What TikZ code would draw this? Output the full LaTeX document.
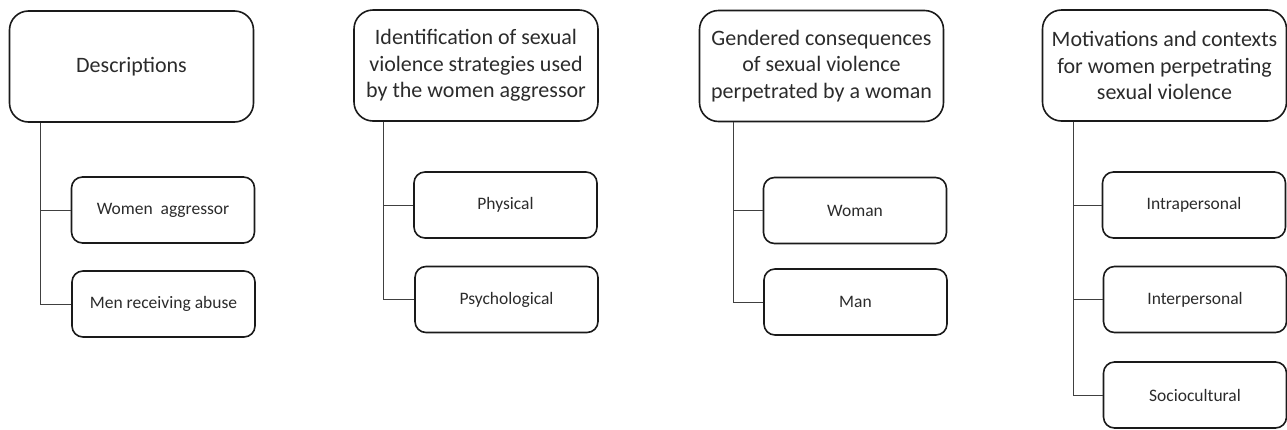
\documentclass[tikz,border=0pt]{standalone}
\usepackage{fontspec}
\setmainfont{Carlito}
\definecolor{boxline}{HTML}{1A1A1A}
\definecolor{conn}{HTML}{404040}
\definecolor{txt}{HTML}{2B2B2B}
\tikzset{
  headbox/.style={draw=boxline, line width=1.6pt, rounded corners=19pt,
    minimum width=244pt, minimum height=111pt, align=center, text=txt,
    inner sep=0pt, font=\fontsize{22}{26.5}\selectfont},
  subbox/.style={draw=boxline, line width=1.6pt, rounded corners=11pt,
    minimum width=183pt, minimum height=66pt, align=center, text=txt,
    inner sep=0pt, font=\fontsize{17.5}{21}\selectfont},
  link/.style={draw=conn, line width=1pt}
}
\begin{document}
\begin{tikzpicture}[x=1pt,y=-1pt]
\useasboundingbox (0,0) rectangle (1287,429);
% headers
\node[headbox] (T1) at (131.5,66.5) {Descriptions};
\node[headbox] (T2) at (476,65.5) {Identification of sexual\\violence strategies used\\by the women aggressor};
\node[headbox] (T3) at (821.5,66) {Gendered consequences\\of sexual violence\\perpetrated by a woman};
\node[headbox] (T4) at (1164.5,65.5) {Motivations and contexts\\for women perpetrating\\sexual violence};
% children
\node[subbox] (C1a) at (163,210) {Women\ \ aggressor};
\node[subbox] (C1b) at (163.5,304) {Men receiving abuse};
\node[subbox] (C2a) at (505.5,205) {Physical};
\node[subbox] (C2b) at (506.5,299.5) {Psychological};
\node[subbox] (C3a) at (855,210.5) {Woman};
\node[subbox] (C3b) at (855.5,302) {Man};
\node[subbox] (C4a) at (1194,205) {Intrapersonal};
\node[subbox] (C4b) at (1195,299.5) {Interpersonal};
\node[subbox] (C4c) at (1195,395) {Sociocultural};
% trunks
\coordinate (k1) at (40,0);
\coordinate (k2) at (383,0);
\coordinate (k3) at (733,0);
\coordinate (k4) at (1073,0);
\draw[link] (k1 |- T1.south) |- (C1b.west);
\draw[link] (k1 |- C1a.west) -- (C1a.west);
\draw[link] (k2 |- T2.south) |- (C2b.west);
\draw[link] (k2 |- C2a.west) -- (C2a.west);
\draw[link] (k3 |- T3.south) |- (C3b.west);
\draw[link] (k3 |- C3a.west) -- (C3a.west);
\draw[link] (k4 |- T4.south) |- (C4c.west);
\draw[link] (k4 |- C4a.west) -- (C4a.west);
\draw[link] (k4 |- C4b.west) -- (C4b.west);
\end{tikzpicture}
\end{document}
